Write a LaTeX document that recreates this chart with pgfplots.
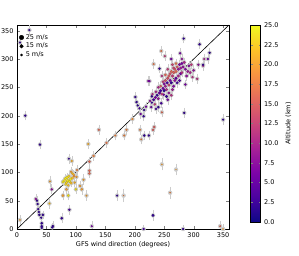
\documentclass[border=0pt]{standalone}
\usepackage{fontspec}
\setmainfont{DejaVu Sans}
\usepackage{pgfplots}
\usepackage{pgfplotstable}
\pgfplotsset{compat=1.18}
\pgfplotstableread{
x y alt spd err
5 16 20 2 5
14 200 2 6 5
5 329 2 4 6
21 351 2 5 5
39 149 2 6 5
32 53 8 6 5
34 50 2 5 4
35 44 2 5 4
36 35 2 5 4
37 30 2 5 4
38 25 2 6 4
44 25 2 7 4
41 20 2 5 4
42 10 2 7 5
42 5 2 7 5
42 2 2 6 5
61 5 2 7 5
60 3 2 6 4
76 19 2 7 5
89 34 3 6 5
127 5 6 4 6
170 59 2 4 6
181 59 18 1 8
215 0 3 5 4
282 0 2 5 4
345 5 16 3 6
350 0 20 2 5
231 24 2 8 6
246 114 20 2 7
270 105 20 1 7
260 64 18 2 7
350 193 2 5 6
59 70 8 5 5
56 84 20 4 6
55 45 22 4 6
78 59 20 7 5
87 59 24 7 5
84 70 20 6 5
100 70 24 6 5
107 76 20 6 6
110 70 20 6 6
118 59 20 3 6
113 87 20 4 6
102 104 18 5 5
123 119 16 6 5
123 103 16 6 5
123 98 16 6 5
130 129 18 6 5
121 150 21 5 5
139 175 16 5 5
152 152 17 5 5
167 165 18 4 5
182 165 18 4 5
186 175 18 4 5
209 175 18 3 5
211 158 18 3 5
216 165 2 6 5
224 165 2 6 5
231 175 15 6 5
233 180 15 6 5
196 194 19 5 5
88 124 2 3 5
93 120 21 5 5
94 98 22 5 5
80 85 24 9 4
82 89 24 9 4
84 82 23 9 4
85 91 24 10 4
86 86 24 10 4
89 84 24 9 4
88 93 23 9 4
91 88 24 10 4
83 79 23 8 4
78 83 24 8 4
92 81 22 8 4
94 90 22 8 4
96 96 21 6 5
87 77 22 6 4
92 101 20 5 5
97 93 19 5 5
101 92 20 5 5
98 82 21 5 5
201 233 2 6 5
203 224 2 6 5
205 218 2 5 5
215 199 2 6 5
216 210 2 5 5
219 216 6 5 5
210 203 6 5 5
223 261 7 5 5
208 213 3 5 5
283 336 2 5 5
310 326 2 6 5
327 311 2 5 5
324 300 5 5 5
318 300 10 5 5
277 310 6 5 5
245 314 17 4 5
251 305 12 4 5
232 291 17 4 5
242 283 2 6 5
225 261 6 5 5
229 234 2 6 5
306 265 11 6 5
316 288 10 5 5
316 290 2 5 5
308 290 8 5 5
286 255 6 6 5
249 237 6 6 5
246 206 16 4 5
284 205 2 5 5
229 223 2 5 5
232 228 3 8 5
235 232 6 8 5
238 236 2 9 5
240 230 8 8 5
242 240 5 9 5
236 242 10 7 5
244 244 3 9 5
246 238 12 8 5
248 248 6 9 5
250 244 2 9 5
252 252 9 9 5
254 246 11 8 5
255 258 3 9 5
250 256 7 8 5
258 254 13 9 5
260 262 6 9 5
262 258 2 9 5
256 266 14 9 5
258 270 15 9 5
260 274 14 9 5
262 278 16 8 5
264 270 12 9 5
266 276 15 9 5
268 282 14 8 5
270 278 16 9 5
266 284 13 8 5
272 286 15 8 5
274 282 8 9 5
276 290 7 8 5
278 284 9 9 5
280 292 6 8 5
282 286 8 9 5
284 294 10 8 5
286 282 7 8 5
270 266 5 9 5
268 262 8 9 5
274 270 10 9 5
278 274 6 9 5
280 276 11 8 5
272 258 3 8 5
266 252 7 9 5
264 246 9 8 5
258 240 8 8 5
254 234 2 9 5
256 228 6 7 5
262 236 11 8 5
276 262 4 8 5
288 270 8 8 5
290 278 9 8 5
292 288 7 8 5
294 276 10 8 5
296 290 12 7 5
300 280 8 7 5
298 268 11 6 5
245 222 3 7 5
240 215 2 7 5
236 212 3 6 5
234 220 12 6 5
228 215 5 6 5
226 226 8 6 5
230 238 11 6 5
252 262 14 8 5
248 260 12 7 5
244 252 15 7 5
240 250 10 7 5
264 290 13 7 5
252 272 16 7 5
270 292 17 6 5
280 300 8 6 5
262 300 6 6 5
256 282 12 7 5
246 270 11 6 5
}\data
\begin{document}
\begin{tikzpicture}
\begin{axis}[
  name=ax,
  scale only axis, width=212pt, height=204pt,
  xmin=0, xmax=360, ymin=0, ymax=360,
  xtick={0,50,...,350}, ytick={0,50,...,350},
  tick align=inside,
  major tick length=3pt,
  font=\fontsize{6.5}{7.5}\selectfont,
  /pgf/number format/assume math mode=true,
  xlabel={GFS wind direction (degrees)},
  xlabel style={yshift=3pt},
  colormap={plasma}{rgb255=(13,8,135) rgb255=(75,3,161) rgb255=(125,3,168) rgb255=(168,34,150) rgb255=(203,70,121) rgb255=(229,107,93) rgb255=(248,148,65) rgb255=(253,195,40) rgb255=(240,249,33)},
  colorbar,
  point meta min=0, point meta max=25,
  colorbar style={
    at={(parent axis.north east)}, anchor=north west, xshift=13pt,
    width=10pt, height=197pt,
    ytick={0,2.5,...,25},
    font=\fontsize{6.5}{7.5}\selectfont,
    /pgf/number format/assume math mode=true,
    yticklabel style={/pgf/number format/.cd, fixed, fixed zerofill, precision=1},
    ylabel={Altitude (km)},
    major tick length=2pt,
  },
  legend style={at={(0.005,0.97)}, anchor=north west, draw=none, fill=none,
    font=\fontsize{6.5}{7.5}\selectfont, row sep=-1.5pt, inner sep=1pt,
    /tikz/every even column/.append style={column sep=0pt}},
  legend cell align=left,
  clip=true,
]
\addlegendimage{only marks, mark=*, black, mark size=2.25pt}
\addlegendentry{25 m/s}
\addlegendimage{only marks, mark=*, black, mark size=1.75pt}
\addlegendentry{15 m/s}
\addlegendimage{only marks, mark=*, black, mark size=1pt}
\addlegendentry{5 m/s}
\addplot[black, line width=0.6pt, forget plot] coordinates {(0,0) (360,360)};
\addplot[color=black!20, only marks, mark=none, forget plot,
  error bars/.cd, y dir=both, y explicit,
  error bar style={color=black!20, line width=0.5pt},
  error mark options={color=black!20, mark size=2pt, line width=0.5pt}]
  table[x=x, y=y, y error=err] {\data};
\addplot[scatter, only marks, mark=*, forget plot, scatter src=explicit,
  visualization depends on={\thisrow{spd} \as \spd},
  scatter/@pre marker code/.append style={/tikz/mark size={0.42*sqrt(\spd)}}]
  table[x=x, y=y, meta=alt] {\data};
\end{axis}
\pgfresetboundingbox
\path[use as bounding box] ([xshift=-17pt,yshift=-27pt]ax.south west) rectangle ([xshift=70pt,yshift=25pt]ax.north east);
\end{tikzpicture}
\end{document}
